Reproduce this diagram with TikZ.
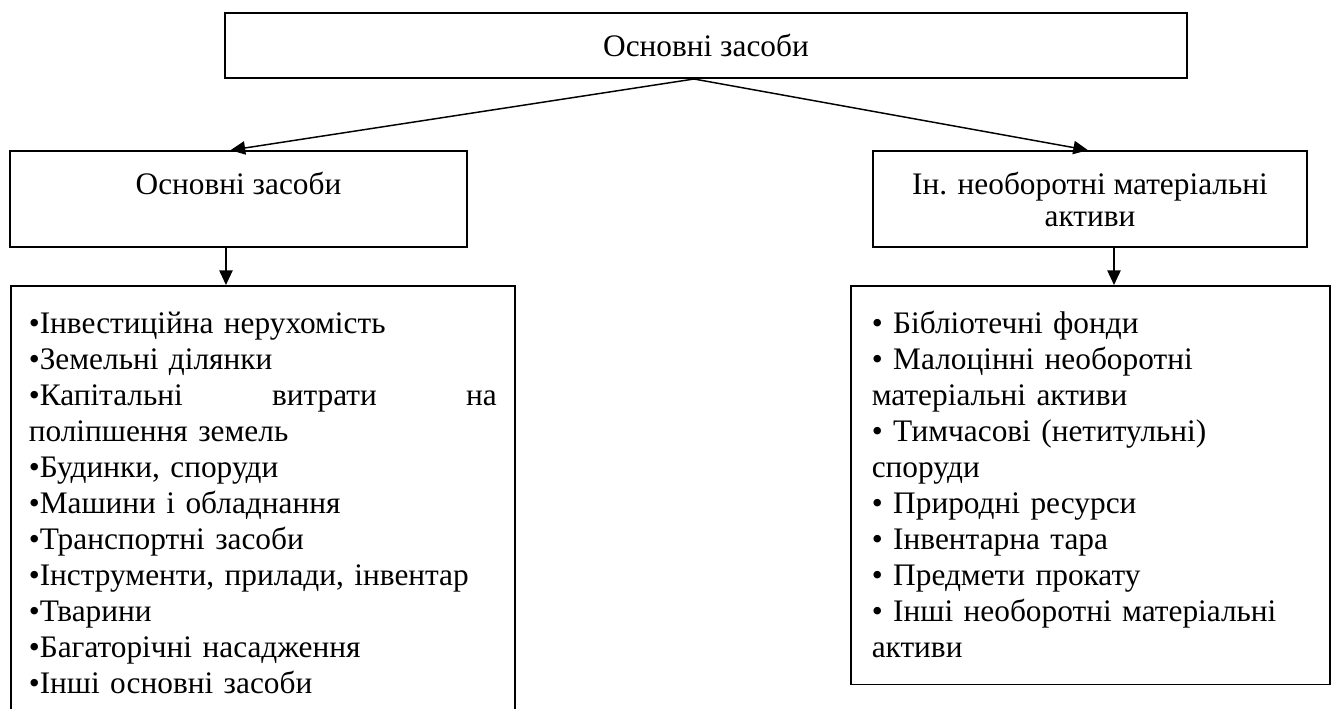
\documentclass[tikz,border=0pt]{standalone}
\usepackage{fontspec}
\setmainfont{Liberation Serif}
\usetikzlibrary{arrows.meta}
\begin{document}
\begin{tikzpicture}[x=0.75pt,y=-0.75pt,
  box/.style={draw,line width=1.2pt,rectangle,inner sep=0pt,
    font=\fontsize{23.5}{27}\selectfont},
  headbox/.style={box,minimum height=72pt,align=center,
    font=\fontsize{23.5}{24}\selectfont},
  listbox/.style={box,anchor=north west,align=left,inner ysep=0pt},
  link/.style={line width=1.1pt,-{Triangle[length=11pt,width=10pt]}}]
\useasboundingbox (0,0) rectangle (1335,709);
\clip (0,0) rectangle (1335,709);

% header
\node[box,minimum width=721.5pt,minimum height=48.75pt] (root) at (706,45.5) {Основні засоби};

% second level
\node[headbox,minimum width=342.75pt] (lmid) at (238.5,199)
  {Основні засоби\\\mbox{}};
\node[headbox,minimum width=325.5pt] (rmid) at (1090,199)
  {Ін. необоротні матеріальні\\активи};

% lists
\node[listbox,text width=351pt,inner xsep=13.5pt] (llist) at (10,285)
  {\rule{0pt}{36pt}•Інвестиційна нерухомість\\
   •Земельні ділянки\\
   •Капітальні\hfill витрати\hfill на\\
   поліпшення земель\\
   •Будинки, споруди\\
   •Машини і обладнання\\
   •Транспортні засоби\\
   •Інструменти, прилади, інвентар\\
   •Тварини\\
   •Багаторічні насадження\\
   •Інші основні засоби\rule[-24pt]{0pt}{24pt}};
\node[listbox,text width=327.75pt,inner xsep=15.75pt] (rlist) at (850,285)
  {\rule{0pt}{36pt}• Бібліотечні фонди\\
   • Малоцінні необоротні\\
   матеріальні активи\\
   • Тимчасові (нетитульні)\\
   споруди\\
   • Природні ресурси\\
   • Інвентарна тара\\
   • Предмети прокату\\
   • Інші необоротні матеріальні\\
   активи\rule[-20pt]{0pt}{20pt}};

% connectors
\coordinate (src) at (694,79);
\draw[link] (src) -- ([xshift=-6pt]lmid.north);
\draw[link] (src) -- ([xshift=-1.5pt]rmid.north);
\draw[link] ([xshift=-9.4pt]lmid.south) -- ([xshift=-9.4pt]lmid.south |- llist.north);
\draw[link] ([xshift=18pt]rmid.south) -- ([xshift=18pt]rmid.south |- rlist.north);
\end{tikzpicture}
\end{document}
